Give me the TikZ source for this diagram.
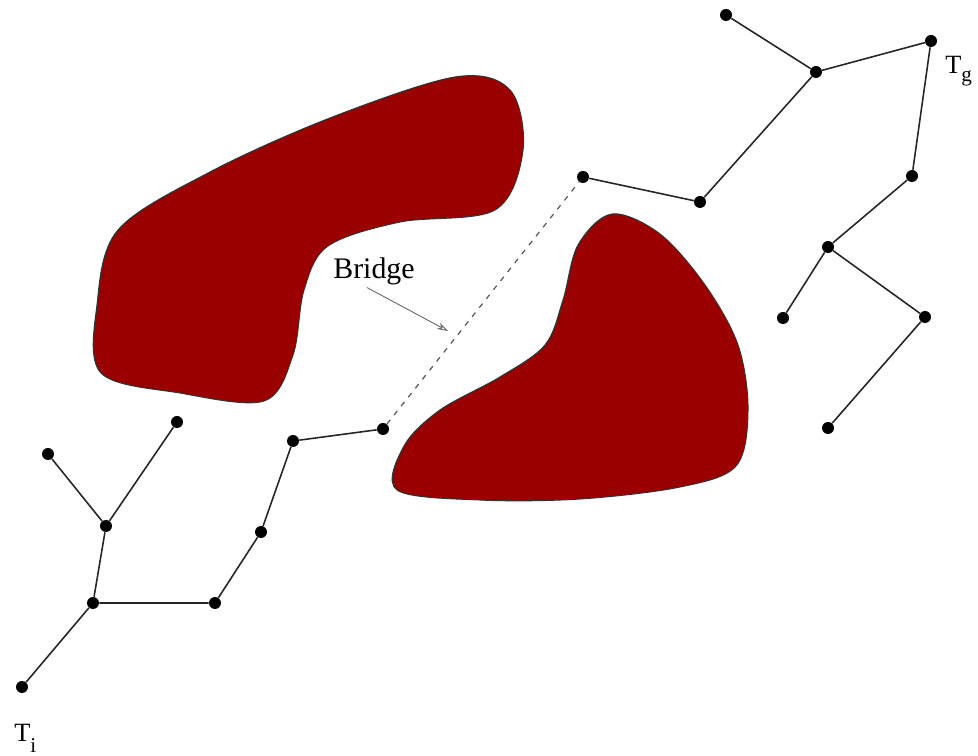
\documentclass[tikz,border=0pt]{standalone}
\usepackage{fontspec}
\setmainfont{Liberation Serif}
\usetikzlibrary{arrows.meta}
\definecolor{obstred}{RGB}{155,0,0}

\begin{document}
\begin{tikzpicture}[x=0.02cm,y=-0.02cm,
    vtx/.style={circle,fill=black,inner sep=0pt,minimum size=0.24cm},
    edge/.style={line width=0.9pt,black!85},
    obst/.style={fill=obstred,draw=black!80,line width=0.6pt},
    bridge/.style={gray!70!black,line width=0.7pt,dash pattern=on 3pt off 3.5pt},
    lbl/.style={font=\fontsize{15}{17}\selectfont,anchor=base west,inner sep=0pt}]
    \useasboundingbox (0,0) rectangle (978,756);
    % obstacles
    \filldraw[obst] plot[smooth cycle,tension=0.55] coordinates {
      (101,373) (97,305) (118,230) (210,172) (330,118) (455,77) (510,90)
      (523,150) (495,210) (400,222) (328,246) (304,290) (293,355) (264,401)
      (180,393)};
    \filldraw[obst] plot[smooth cycle,tension=0.55] coordinates {
      (397,490) (404,446) (440,410) (500,377) (545,345) (563,300) (578,245)
      (612,214) (660,234) (705,285) (738,345) (748,410) (736,466) (680,487)
      (580,499) (480,500)};
    % T_i
    \node[vtx] (i1) at (22,687) {};
    \node[vtx] (i2) at (93,603) {};
    \node[vtx] (i3) at (215,603) {};
    \node[vtx] (i4) at (106,526) {};
    \node[vtx] (i5) at (48,454) {};
    \node[vtx] (i6) at (177,422) {};
    \node[vtx] (i7) at (261,532) {};
    \node[vtx] (i8) at (293,441) {};
    \node[vtx] (i9) at (383,429) {};
    \draw[edge] (i1) -- (i2) -- (i3) -- (i7) -- (i8) -- (i9);
    \draw[edge] (i2) -- (i4) -- (i5);
    \draw[edge] (i4) -- (i6);
    \node[lbl] (ti) at (14,742) {T\raisebox{-0.4em}{\fontsize{12}{14}\selectfont i}};
    % T_g
    \node[vtx] (g1) at (583,177) {};
    \node[vtx] (g2) at (700,202) {};
    \node[vtx] (g3) at (816,72) {};
    \node[vtx] (g4) at (726,15) {};
    \node[vtx] (g5) at (931,41) {};
    \node[vtx] (g6) at (912,176) {};
    \node[vtx] (g7) at (828,247) {};
    \node[vtx] (g8) at (783,318) {};
    \node[vtx] (g9) at (925,317) {};
    \node[vtx] (g10) at (828,428) {};
    \draw[edge] (g1) -- (g2) -- (g3) -- (g4);
    \draw[edge] (g3) -- (g5) -- (g6) -- (g7) -- (g8);
    \draw[edge] (g7) -- (g9) -- (g10);
    \node[lbl] (tg) at (945,74) {T\raisebox{-0.3em}{\fontsize{12}{14}\selectfont g}};
    % bridge
    \draw[bridge] (i9) -- (g1);
    \node[font=\fontsize{17}{20}\selectfont,anchor=base west,inner sep=0pt] (brg) at (333,279) {Bridge};
    \coordinate (bt) at (448,331);
    \draw[gray!80!black,line width=0.5pt,-{Stealth[length=2.2mm,width=1.4mm,open]}] ([xshift=-4pt,yshift=-1pt]brg.south) -- (bt);
\end{tikzpicture}
\end{document}
